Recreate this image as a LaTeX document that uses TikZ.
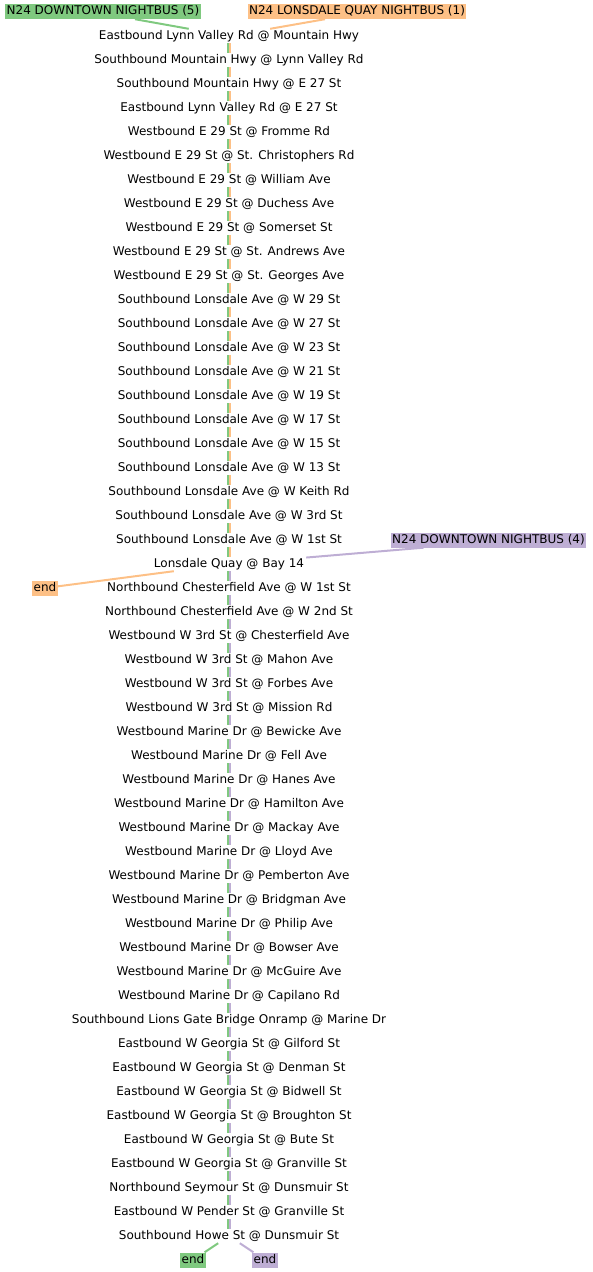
\documentclass[tikz,border=0pt]{standalone}
\usepackage{fontspec}
\setmainfont{DejaVu Sans}
\definecolor{cg}{HTML}{7FC97F}
\definecolor{co}{HTML}{FDC086}
\definecolor{cp}{HTML}{BEAED4}
\begin{document}
\begin{tikzpicture}[x=1pt,y=-1pt,
  stopnode/.style={font=\fontsize{12}{14}\selectfont, text height=9pt, text depth=3pt, inner xsep=2pt, inner ysep=1pt},
  lab/.style={font=\fontsize{12}{14}\selectfont, text height=9pt, text depth=3pt, inner xsep=1.5pt, inner ysep=1.5pt, fill=#1},
  conn/.style={draw=#1, line width=2pt}]
\useasboundingbox (0,0) rectangle (592,1272);
\foreach \t [count=\i] in {
Eastbound Lynn Valley Rd @ Mountain Hwy,
Southbound Mountain Hwy @ Lynn Valley Rd,
Southbound Mountain Hwy @ E 27 St,
Eastbound Lynn Valley Rd @ E 27 St,
Westbound E 29 St @ Fromme Rd,
Westbound E 29 St @ St. Christophers Rd,
Westbound E 29 St @ William Ave,
Westbound E 29 St @ Duchess Ave,
Westbound E 29 St @ Somerset St,
Westbound E 29 St @ St. Andrews Ave,
Westbound E 29 St @ St. Georges Ave,
Southbound Lonsdale Ave @ W 29 St,
Southbound Lonsdale Ave @ W 27 St,
Southbound Lonsdale Ave @ W 23 St,
Southbound Lonsdale Ave @ W 21 St,
Southbound Lonsdale Ave @ W 19 St,
Southbound Lonsdale Ave @ W 17 St,
Southbound Lonsdale Ave @ W 15 St,
Southbound Lonsdale Ave @ W 13 St,
Southbound Lonsdale Ave @ W Keith Rd,
Southbound Lonsdale Ave @ W 3rd St,
Southbound Lonsdale Ave @ W 1st St,
Lonsdale Quay @ Bay 14,
Northbound Chesterfield Ave @ W 1st St,
Northbound Chesterfield Ave @ W 2nd St,
Westbound W 3rd St @ Chesterfield Ave,
Westbound W 3rd St @ Mahon Ave,
Westbound W 3rd St @ Forbes Ave,
Westbound W 3rd St @ Mission Rd,
Westbound Marine Dr @ Bewicke Ave,
Westbound Marine Dr @ Fell Ave,
Westbound Marine Dr @ Hanes Ave,
Westbound Marine Dr @ Hamilton Ave,
Westbound Marine Dr @ Mackay Ave,
Westbound Marine Dr @ Lloyd Ave,
Westbound Marine Dr @ Pemberton Ave,
Westbound Marine Dr @ Bridgman Ave,
Westbound Marine Dr @ Philip Ave,
Westbound Marine Dr @ Bowser Ave,
Westbound Marine Dr @ McGuire Ave,
Westbound Marine Dr @ Capilano Rd,
Southbound Lions Gate Bridge Onramp @ Marine Dr,
Eastbound W Georgia St @ Gilford St,
Eastbound W Georgia St @ Denman St,
Eastbound W Georgia St @ Bidwell St,
Eastbound W Georgia St @ Broughton St,
Eastbound W Georgia St @ Bute St,
Eastbound W Georgia St @ Granville St,
Northbound Seymour St @ Dunsmuir St,
Eastbound W Pender St @ Granville St,
Southbound Howe St @ Dunsmuir St}
{ \node[stopnode] (s\i) at (229,{36+24*(\i-1)}) {\t}; }

\foreach \i in {1,...,50} {
  \pgfmathtruncatemacro\j{\i+1}
  \ifnum\i<23 \def\oc{co}\else\def\oc{cp}\fi
  \draw[conn=cg] ([xshift=-1pt]s\i.south) -- ([xshift=-1pt]s\j.north);
  \draw[conn=\oc] ([xshift=1pt]s\i.south) -- ([xshift=1pt]s\j.north);
}

\node[lab=cg] (lg) at (103,11.5) {N24 DOWNTOWN NIGHTBUS (5)};
\node[lab=co] (lo) at (357,11.5) {N24 LONSDALE QUAY NIGHTBUS (1)};
\node[lab=cp] (lp) at (488.5,540) {N24 DOWNTOWN NIGHTBUS (4)};
\node[lab=co] (eo) at (45,588) {end};
\node[lab=cg] (eg) at (193,1260) {end};
\node[lab=cp] (ep) at (265,1260) {end};

\draw[conn=cg] ([xshift=32pt]lg.south) -- (s1);
\draw[conn=co] ([xshift=-32pt]lo.south) -- (s1);
\draw[conn=cp] ([xshift=-65pt]lp.south) -- (s23);
\draw[conn=co] (s23) -- (eo);
\draw[conn=cg] (s51) -- (eg);
\draw[conn=cp] (s51) -- (ep);
\end{tikzpicture}
\end{document}
